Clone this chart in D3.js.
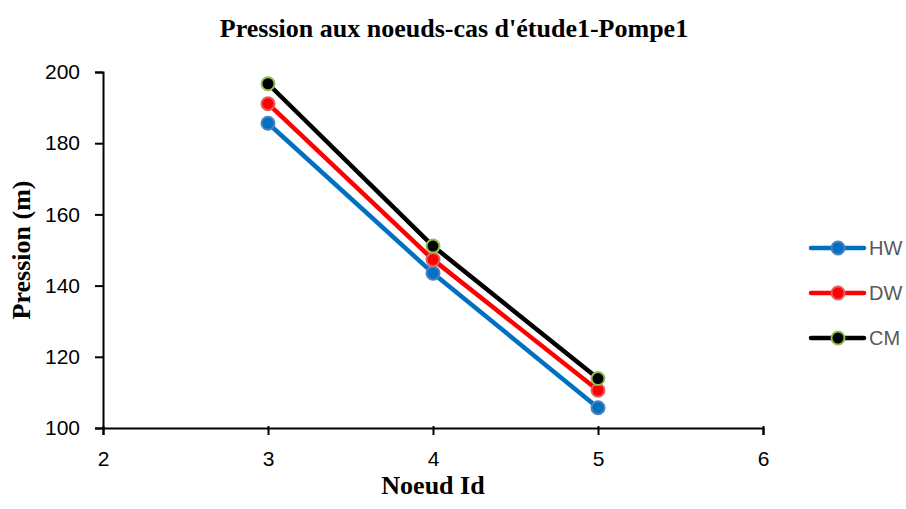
<!DOCTYPE html>
<html>
<head>
<meta charset="utf-8">
<script src="https://cdn.jsdelivr.net/npm/d3@7"></script>
<style>
  html, body { margin: 0; padding: 0; background: #fff; }
  svg { display: block; }
</style>
</head>
<body>
<svg id="chart" width="906" height="509"></svg>
<script>
// Node identifiers and pressures (m) per head-loss formula
const nodes = [3, 4, 5];
const hw = [185.6, 143.5, 105.7];
const dw = [191.1, 147.3, 110.6];
const cm = [196.7, 151.1, 113.9];

const seriesNames = ["HW", "DW", "CM"];
const xTicks = [2, 3, 4, 5, 6];
const yTicks = [100, 120, 140, 160, 180, 200];

const title = "Pression aux noeuds-cas d'étude1-Pompe1";
const xTitle = "Noeud Id";
const yTitle = "Pression (m)";

const styles = [
  { line: "#0070C0", fill: "#0070C0", stroke: "#4F81BD" },
  { line: "#FF0000", fill: "#FF0000", stroke: "#E06060" },
  { line: "#000000", fill: "#000000", stroke: "#92C050" }
];

const svg = d3.select("#chart");

const x = d3.scaleLinear().domain([2, 6]).range([103, 763]);
const y = d3.scaleLinear().domain([100, 200]).range([428, 72]);

const serif = "'Liberation Serif', 'Times New Roman', serif";
const sans = "'Liberation Sans', Arial, sans-serif";

// Title
svg.append("text")
  .attr("x", 454).attr("y", 37)
  .attr("text-anchor", "middle")
  .attr("font-family", serif)
  .attr("font-weight", "bold")
  .attr("font-size", 26)
  .attr("fill", "#000")
  .text(title);

// Axes
const xAxis = svg.append("g")
  .attr("transform", `translate(0,${y(100)})`)
  .call(d3.axisBottom(x).tickValues(xTicks).tickFormat(d3.format("d")).tickSize(7).tickPadding(16));
const yAxis = svg.append("g")
  .attr("transform", `translate(${x(2)},0)`)
  .call(d3.axisLeft(y).tickValues(yTicks).tickFormat(d3.format("d")).tickSize(8).tickPadding(15));

[xAxis, yAxis].forEach(g => {
  g.select(".domain").attr("stroke", "#000").attr("stroke-width", 2);
  g.selectAll(".tick line").attr("stroke", "#000").attr("stroke-width", 2);
  g.selectAll(".tick text")
    .attr("font-family", sans)
    .attr("font-size", 21)
    .attr("fill", "#000");
});
// x ticks cross the axis line slightly
xAxis.selectAll(".tick line").attr("y1", -2).attr("y2", 7);

// Axis titles
svg.append("text")
  .attr("x", 433).attr("y", 494)
  .attr("text-anchor", "middle")
  .attr("font-family", serif)
  .attr("font-weight", "bold")
  .attr("font-size", 26)
  .text(xTitle);
svg.append("text")
  .attr("transform", `translate(30,${(y(100) + y(200)) / 2}) rotate(-90)`)
  .attr("text-anchor", "middle")
  .attr("font-family", serif)
  .attr("font-weight", "bold")
  .attr("font-size", 26)
  .text(yTitle);

// Series
const data = [hw, dw, cm];
const line = d3.line().x((d, i) => x(nodes[i])).y(d => y(d));

data.forEach((vals, s) => {
  const st = styles[s];
  svg.append("path")
    .datum(vals)
    .attr("d", line)
    .attr("fill", "none")
    .attr("stroke", st.line)
    .attr("stroke-width", 4.5)
    .attr("stroke-linejoin", "round");
  svg.selectAll(null)
    .data(vals)
    .enter().append("circle")
    .attr("cx", (d, i) => x(nodes[i]))
    .attr("cy", d => y(d))
    .attr("r", 6.5)
    .attr("fill", st.fill)
    .attr("stroke", st.stroke)
    .attr("stroke-width", 2);
});

// Legend
const legend = svg.append("g");
seriesNames.forEach((name, s) => {
  const st = styles[s];
  const ly = 248 + s * 45;
  legend.append("line")
    .attr("x1", 811).attr("x2", 864).attr("y1", ly).attr("y2", ly)
    .attr("stroke", st.line).attr("stroke-width", 4.5).attr("stroke-linecap", "round");
  legend.append("circle")
    .attr("cx", 838).attr("cy", ly).attr("r", 6.5)
    .attr("fill", st.fill).attr("stroke", st.stroke).attr("stroke-width", 2);
  legend.append("text")
    .attr("x", 869).attr("y", ly + 7)
    .attr("font-family", sans)
    .attr("font-size", 20)
    .attr("fill", "#595959")
    .text(name);
});
</script>
</body>
</html>
